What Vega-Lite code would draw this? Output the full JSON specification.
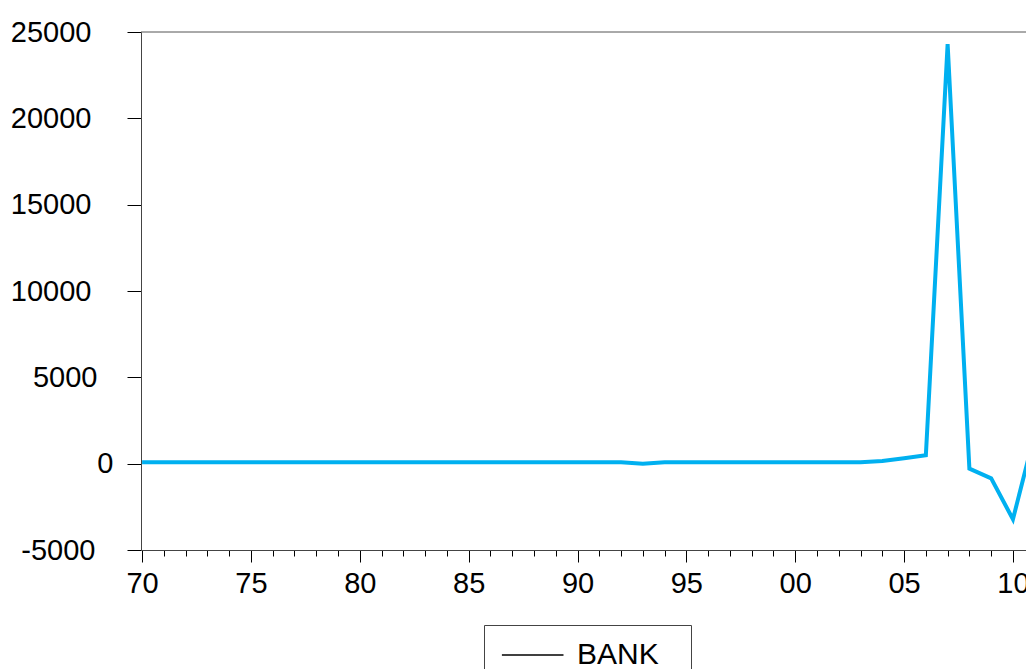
{
  "$schema": "https://vega.github.io/schema/vega-lite/v6.json",
  "width": 885,
  "height": 518,
  "autosize": "none",
  "padding": {"left": 141, "top": 32, "right": 0, "bottom": 119},
  "background": "white",
  "config": {"view": {"stroke": null}, "font": "Liberation Sans"},
  "data": {
    "values": [
      {"year": 1970, "value": 80, "series": "BANK"},
      {"year": 1971, "value": 80, "series": "BANK"},
      {"year": 1972, "value": 80, "series": "BANK"},
      {"year": 1973, "value": 80, "series": "BANK"},
      {"year": 1974, "value": 80, "series": "BANK"},
      {"year": 1975, "value": 80, "series": "BANK"},
      {"year": 1976, "value": 80, "series": "BANK"},
      {"year": 1977, "value": 80, "series": "BANK"},
      {"year": 1978, "value": 80, "series": "BANK"},
      {"year": 1979, "value": 80, "series": "BANK"},
      {"year": 1980, "value": 80, "series": "BANK"},
      {"year": 1981, "value": 80, "series": "BANK"},
      {"year": 1982, "value": 80, "series": "BANK"},
      {"year": 1983, "value": 80, "series": "BANK"},
      {"year": 1984, "value": 80, "series": "BANK"},
      {"year": 1985, "value": 80, "series": "BANK"},
      {"year": 1986, "value": 80, "series": "BANK"},
      {"year": 1987, "value": 80, "series": "BANK"},
      {"year": 1988, "value": 80, "series": "BANK"},
      {"year": 1989, "value": 80, "series": "BANK"},
      {"year": 1990, "value": 80, "series": "BANK"},
      {"year": 1991, "value": 80, "series": "BANK"},
      {"year": 1992, "value": 80, "series": "BANK"},
      {"year": 1993, "value": 0, "series": "BANK"},
      {"year": 1994, "value": 80, "series": "BANK"},
      {"year": 1995, "value": 80, "series": "BANK"},
      {"year": 1996, "value": 80, "series": "BANK"},
      {"year": 1997, "value": 80, "series": "BANK"},
      {"year": 1998, "value": 80, "series": "BANK"},
      {"year": 1999, "value": 80, "series": "BANK"},
      {"year": 2000, "value": 80, "series": "BANK"},
      {"year": 2001, "value": 80, "series": "BANK"},
      {"year": 2002, "value": 80, "series": "BANK"},
      {"year": 2003, "value": 85, "series": "BANK"},
      {"year": 2004, "value": 156, "series": "BANK"},
      {"year": 2005, "value": 311, "series": "BANK"},
      {"year": 2006, "value": 486, "series": "BANK"},
      {"year": 2007, "value": 24300, "series": "BANK"},
      {"year": 2008, "value": -290, "series": "BANK"},
      {"year": 2009, "value": -848, "series": "BANK"},
      {"year": 2010, "value": -3222, "series": "BANK"},
      {"year": 2011, "value": 1750, "series": "BANK"}
    ]
  },
  "layer": [
    {
      "mark": {"type": "line", "strokeWidth": 4, "clip": true, "color": "#00b0f0"},
      "encoding": {
        "x": {
          "field": "year",
          "type": "quantitative",
          "scale": {"domain": [1969.95, 2010.6], "nice": false, "zero": false},
          "axis": {
            "title": null,
            "values": [1970,1971,1972,1973,1974,1975,1976,1977,1978,1979,1980,1981,1982,1983,1984,1985,1986,1987,1988,1989,1990,1991,1992,1993,1994,1995,1996,1997,1998,1999,2000,2001,2002,2003,2004,2005,2006,2007,2008,2009,2010],
            "labelExpr": "datum.value % 5 === 0 ? substring(toString(datum.value), 2, 4) : ''",
            "labelFontSize": 29,
            "labelFont": "Liberation Sans",
            "labelColor": "black",
            "labelPadding": 7,
            "labelOverlap": false,
            "labelFlush": false,
            "labelBound": false,
            "tickSize": {"condition": {"test": "datum.value % 5 !== 0", "value": 6}, "value": 12},
            "tickColor": "black",
            "tickWidth": 1,
            "domainColor": "#444444",
            "domainWidth": 1,
            "grid": false
          }
        },
        "y": {
          "field": "value",
          "type": "quantitative",
          "scale": {"domain": [-5000, 25000], "nice": false},
          "axis": {
            "title": null,
            "values": [-5000, 0, 5000, 10000, 15000, 20000, 25000],
            "labelExpr": "'' + datum.value",
            "labelFontSize": 29,
            "labelFont": "Liberation Sans",
            "labelColor": "black",
            "labelPadding": {"condition": [
              {"test": "datum.value === 0", "value": 14},
              {"test": "datum.value === 5000", "value": 30},
              {"test": "datum.value === -5000", "value": 32}
            ], "value": 36},
            "labelOverlap": false,
            "tickSize": 14,
            "tickColor": "black",
            "tickWidth": 1,
            "domainColor": "#444444",
            "domainWidth": 1,
            "grid": false
          }
        }
      }
    },
    {
      "data": {"values": [{}]},
      "mark": {"type": "rule", "color": "#555555", "strokeWidth": 1},
      "encoding": {"y": {"datum": 25000}}
    },
    {
      "data": {"values": []},
      "mark": {"type": "line", "color": "black", "strokeWidth": 1},
      "encoding": {
        "strokeDash": {
          "field": "series",
          "type": "nominal",
          "scale": {"domain": ["BANK"], "range": [[1, 0]]},
          "legend": {
            "title": null,
            "orient": "none",
            "legendX": 343,
            "legendY": 593,
            "direction": "vertical",
            "symbolType": "M-1.1,0H4.5",
            "symbolSize": 484,
            "symbolStrokeWidth": 1.3,
            "symbolStrokeColor": "black",
            "labelFontSize": 30,
            "labelFont": "Liberation Sans",
            "labelColor": "black",
            "labelOffset": 48,
            "padding": 15,
            "strokeColor": "#444444",
            "fillColor": "white",
            "labelExpr": "datum.label + '\u00a0\u00a0\u200b'"
          }
        }
      }
    }
  ]
}
